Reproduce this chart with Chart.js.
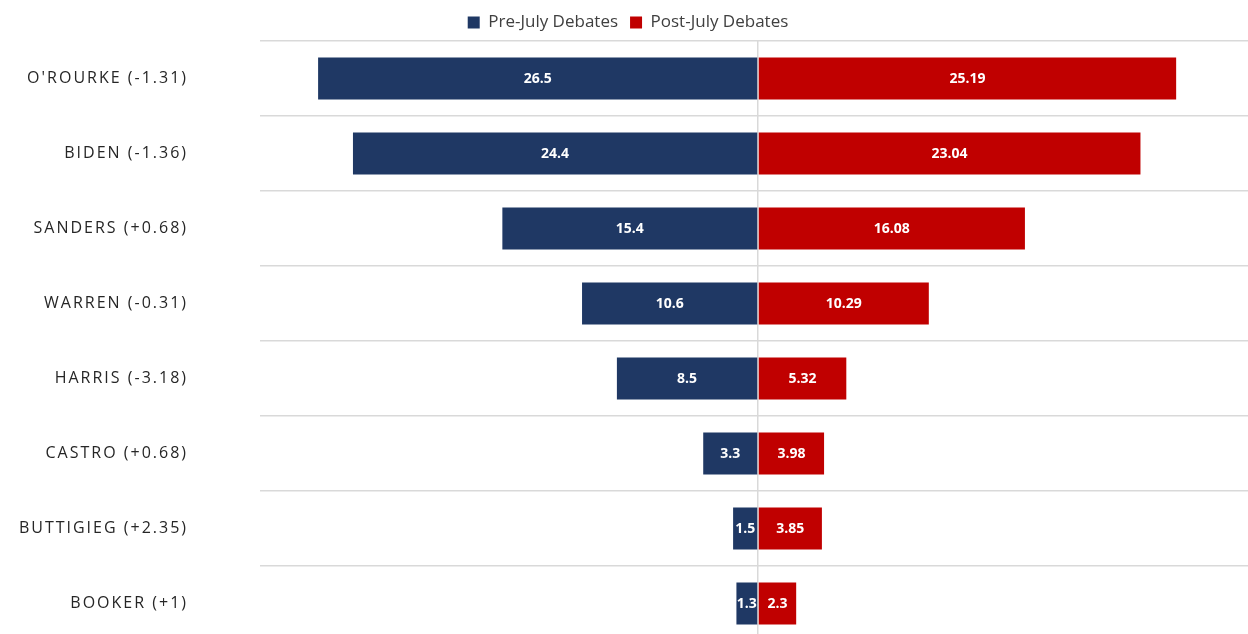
<!DOCTYPE html>
<html>
<head>
<meta charset="utf-8">
<script src="https://cdn.jsdelivr.net/npm/chart.js@4"></script>
<style>
  html, body { margin: 0; padding: 0; background: #fff; overflow: hidden; }
  #wrap { width: 1256px; height: 641px; }
</style>
</head>
<body>
<div id="wrap"><canvas id="chart"></canvas></div>
<script>
// candidates with their change in brackets
const candidates = ['O\'ROURKE (-1.31)', 'BIDEN (-1.36)', 'SANDERS (+0.68)', 'WARREN (-0.31)',
  'HARRIS (-3.18)', 'CASTRO (+0.68)', 'BUTTIGIEG (+2.35)', 'BOOKER (+1)'];
const preJuly = [26.5, 24.4, 15.4, 10.6, 8.5, 3.3, 1.5, 1.3];
const postJuly = [25.19, 23.04, 16.08, 10.29, 5.32, 3.98, 3.85, 2.3];
const xMin = -30;
const xMax = 30;

// left side goes negative so the bars open out from the middle
const preNeg = preJuly.map(v => -v);

const fontName = '"Open Sans", "Noto Sans", sans-serif';

// category labels with letter spacing (chart.js has no option for it)
const yLabelsPlugin = {
  id: 'yLabels',
  afterDraw(chart) {
    const ctx = chart.ctx;
    const yScale = chart.scales.y;
    ctx.save();
    ctx.font = '16px ' + fontName;
    ctx.fillStyle = '#262626';
    ctx.textAlign = 'right';
    ctx.textBaseline = 'middle';
    ctx.letterSpacing = '2px';
    candidates.forEach((c, i) => {
      ctx.fillText(c, 188, yScale.getPixelForTick(i));
    });
    ctx.restore();
  }
};

// white value labels in the middle of each bar
const barLabelsPlugin = {
  id: 'barLabels',
  afterDatasetsDraw(chart) {
    const ctx = chart.ctx;
    ctx.save();
    ctx.font = 'bold 14px ' + fontName;
    ctx.fillStyle = '#ffffff';
    ctx.textAlign = 'center';
    ctx.textBaseline = 'middle';
    const sets = [preJuly, postJuly];
    chart.data.datasets.forEach((ds, d) => {
      const meta = chart.getDatasetMeta(d);
      meta.data.forEach((bar, i) => {
        const cx = (bar.x + bar.base) / 2;
        ctx.fillText(String(sets[d][i]), cx, bar.y + 1);
      });
    });
    ctx.restore();
  }
};

const ctx = document.getElementById('chart').getContext('2d');
const myChart = new Chart(ctx, {
  type: 'bar',
  data: {
    labels: candidates,
    datasets: [{
      label: 'Pre-July Debates',
      data: preNeg,
      backgroundColor: '#1f3864',
      barPercentage: 0.56,
      categoryPercentage: 1
    }, {
      label: 'Post-July Debates',
      data: postJuly,
      backgroundColor: '#c00000',
      barPercentage: 0.56,
      categoryPercentage: 1
    }]
  },
  options: {
    indexAxis: 'y',
    responsive: true,
    maintainAspectRatio: false,
    animation: false,
    layout: { padding: { top: 2, right: 0, bottom: 0, left: 0 } },
    plugins: {
      legend: {
        position: 'top',
        labels: {
          boxWidth: 12,
          boxHeight: 12,
          color: '#404040',
          font: { family: fontName, size: 17 },
          padding: 12
        }
      },
      tooltip: { enabled: false }
    },
    scales: {
      x: {
        stacked: true,
        min: xMin,
        max: xMax,
        ticks: { display: false },
        border: { display: false },
        grid: {
          drawTicks: false,
          lineWidth: 1.5,
          color: c => c.tick && c.tick.value === 0 ? '#d9d9d9' : 'rgba(0,0,0,0)'
        }
      },
      y: {
        stacked: true,
        ticks: { display: false },
        border: { display: false },
        afterFit: s => { s.width = 260; },
        grid: {
          offset: true,
          drawTicks: false,
          lineWidth: 1.5,
          color: '#d9d9d9'
        }
      }
    }
  },
  plugins: [yLabelsPlugin, barLabelsPlugin]
});
</script>
</body>
</html>
